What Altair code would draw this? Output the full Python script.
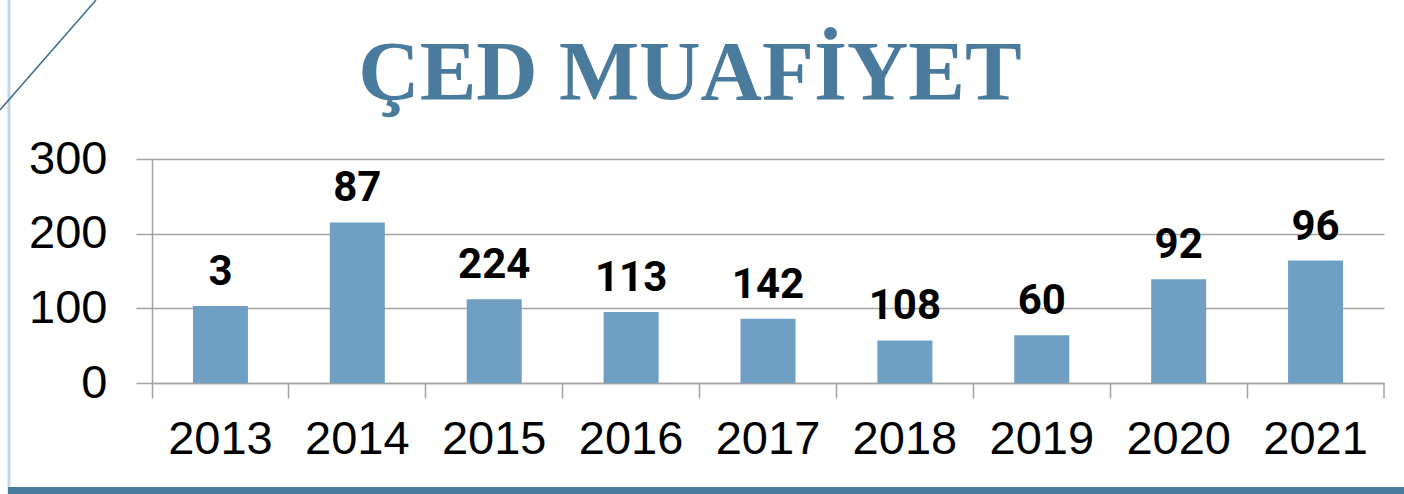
import altair as alt
import pandas as pd

years = ["2013", "2014", "2015", "2016", "2017", "2018", "2019", "2020", "2021"]
bar_heights = [103, 215, 112, 95, 86, 57, 64, 139, 164]
bar_labels = ["3", "87", "224", "113", "142", "108", "60", "92", "96"]
title_text = "ÇED MUAFİYET"
y_ticks = [0, 100, 200, 300]

df = pd.DataFrame({"year": years, "value": bar_heights, "label": bar_labels})

W, H = 1232, 224
GRID = "#a3a3a3"

x_enc = alt.X(
    "year:N",
    sort=years,
    scale=alt.Scale(paddingInner=0, paddingOuter=0),
    axis=alt.Axis(
        title=None, labelAngle=0, labelFont="Liberation Sans", labelFontSize=47,
        labelColor="black", labelPadding=18, tickSize=15, tickColor=GRID,
        tickWidth=1.5, bandPosition=0, domainColor=GRID, domainWidth=1.5,
    ),
)
y_enc = alt.Y(
    "value:Q",
    scale=alt.Scale(domain=[0, 300], nice=False),
    axis=alt.Axis(
        title=None, values=y_ticks, labelFont="Liberation Sans", labelFontSize=47,
        labelColor="black", labelPadding=29, tickSize=16, tickColor=GRID,
        tickWidth=1.5, gridColor=GRID, gridWidth=1.5, domainColor=GRID,
        domainWidth=1.5,
    ),
)

base = alt.Chart(df)
bars = base.mark_bar(size=55, color="#6fa0c4").encode(x=x_enc, y=y_enc)
labels = base.mark_text(
    baseline="alphabetic", dy=-21, fontSize=42, fontWeight="bold",
    font="Roboto", color="black",
).encode(x=alt.X("year:N", sort=years), y="value:Q", text="label:N")

# final tick at right end of x axis
end_tick = alt.Chart(pd.DataFrame({"a": [0]})).mark_rule(
    color=GRID, strokeWidth=1.5
).encode(x=alt.value(W), y=alt.value(H), y2=alt.value(H + 15))

deco = pd.DataFrame({"t": [title_text]})
title = alt.Chart(deco).mark_text(
    font="Liberation Serif", fontSize=85, fontWeight="bold", color="#4a7b9d",
    align="center", baseline="alphabetic",
).encode(text="t:N", x=alt.value(538), y=alt.value(-59))

left_line = alt.Chart(deco).mark_rule(color="#c3d7e8", strokeWidth=3).encode(
    x=alt.value(-143), y=alt.value(-159), y2=alt.value(335)
)
diag = alt.Chart(deco).mark_rule(color="#3f6d8e", strokeWidth=1.5).encode(
    x=alt.value(-152), y=alt.value(-49), x2=alt.value(-56), y2=alt.value(-159)
)
bottom = alt.Chart(deco).mark_rule(color="#4a7a9c", strokeWidth=7).encode(
    x=alt.value(-144), x2=alt.value(W + 20), y=alt.value(331.5)
)

chart = alt.layer(
    left_line, diag, bottom, bars, labels, end_tick, title
).properties(
    width=W, height=H,
    autosize=alt.AutoSizeParams(type="none"),
    padding={"left": 152, "top": 159, "right": 20, "bottom": 111},
    background="white",
).configure_view(stroke=None)

chart.save("out.html", embed_options={"renderer": "svg", "actions": False})
